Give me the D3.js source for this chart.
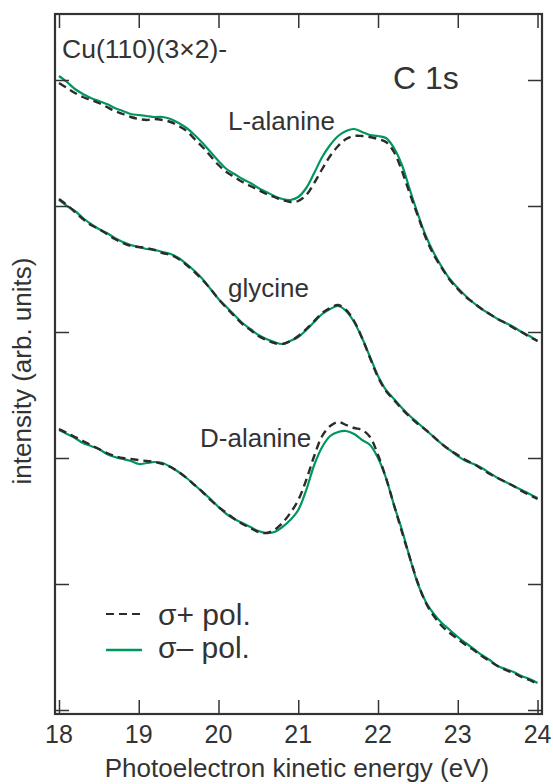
<!DOCTYPE html>
<html>
<head>
<meta charset="utf-8">
<title>C 1s Cu(110)(3x2) - alanine / glycine</title>
<style>
  body { margin: 0; background: #fff; }
  svg text { font-family: "Liberation Sans", Arial, Helvetica, sans-serif; fill: #333; }
</style>
<script src="https://cdn.jsdelivr.net/npm/d3@7"></script>
</head>
<body>
<svg id="chart" width="553" height="784"></svg>
<script>

// photon kinetic energy grid (eV)
var energy = [18.0,18.1,18.2,18.3,18.4,18.5,18.6,18.7,18.8,18.9,
  19.0,19.1,19.2,19.3,19.4,19.5,19.6,19.7,19.8,19.9,
  20.0,20.1,20.2,20.3,20.4,20.5,20.6,20.7,20.8,20.9,
  21.0,21.1,21.2,21.3,21.4,21.5,21.6,21.7,21.8,21.9,
  22.0,22.1,22.2,22.3,22.4,22.5,22.6,22.7,22.8,22.9,
  23.0,23.1,23.2,23.3,23.4,23.5,23.6,23.7,23.8,23.9,24.0];

// intensities (arb. units, curves offset)
var lAlaPlus = [627,622,617,613,610,607,603,599,596,593,
  591,590,591,590,588,584,579,571,563,554,
  545,538,533,528,524,520,516,513,510,508,
  509,515,527,541,554,564,571,574,574,573,
  571,568,558,539,516,494,472,455,442,430,
  421,413,407,401,396,391,387,382,378,373,369];
var lAlaMinus = [634,628,621,616,612,609,606,602,599,596,
  595,594,593,593,591,587,582,575,567,558,
  549,541,536,531,527,522,518,514,511,510,
  513,522,537,553,565,574,579,581,578,575,
  574,572,562,545,520,496,474,457,443,431,
  422,414,407,401,396,391,387,383,378,374,369];

var glyPlus = [511,505,498,491,485,481,476,471,467,464,
  463,462,460,457,455,451,445,438,430,421,
  411,402,394,386,380,374,370,367,366,369,
  374,381,389,397,402,405,400,389,372,352,
  333,319,310,301,293,286,280,273,266,260,
  255,250,246,241,236,232,228,224,219,215,211];
var glyMinus = [510,504,499,492,486,481,477,472,468,465,
  463,461,460,458,456,452,446,439,431,421,
  411,403,395,387,381,375,371,368,366,369,
  373,380,388,396,401,404,399,388,372,353,
  334,320,311,302,294,287,280,273,266,260,
  254,249,246,242,237,232,228,224,220,216,212];

var dAlaPlus = [281,277,273,269,265,261,257,254,252,251,
  250,249,248,246,243,238,232,225,218,210,
  203,197,191,186,182,178,177,180,187,197,
  210,230,254,274,284,288,285,282,280,273,
  255,232,205,178,152,127,107,94,84,77,
  71,65,60,54,49,44,40,37,33,30,26];
var dAlaMinus = [280,276,272,267,264,261,256,253,251,249,
  246,247,248,247,243,238,232,225,218,211,
  203,196,191,187,183,179,177,178,183,190,
  200,220,245,263,274,278,279,276,270,265,
  252,232,205,180,152,126,108,96,87,80,
  73,67,61,55,50,44,41,38,34,31,27];

var xTicks = [18, 19, 20, 21, 22, 23, 24];
var yTicks = [0, 126, 252, 378, 504, 630];

var molecules = ["L-alanine", "glycine", "D-alanine"];
var legendLabels = ["\u03c3+ pol.", "\u03c3\u2013 pol."];

function drawChart() {
  var svg = d3.select("#chart"),
      left = 55, right = 542, top = 14, bottom = 714;

  var x = d3.scaleLinear().domain([17.95, 24.056]).range([left, right]);
  var y = d3.scaleLinear().domain([-4, 696]).range([bottom, top]);

  var green = "#00975c", dark = "#2b2b2b", axisColor = "#333";

  var line = d3.line()
      .x(function(d) { return x(d[0]); })
      .y(function(d) { return y(d[1]); })
      .curve(d3.curveCatmullRom);

  var series = [
    {plus: lAlaPlus, minus: lAlaMinus},
    {plus: glyPlus, minus: glyMinus},
    {plus: dAlaPlus, minus: dAlaMinus}
  ];

  var curves = svg.append("g");
  series.forEach(function(s) {
    curves.append("path")
        .datum(d3.zip(energy, s.minus))
        .attr("fill", "none")
        .attr("stroke", green)
        .attr("stroke-width", 2.2)
        .attr("d", line);
    curves.append("path")
        .datum(d3.zip(energy, s.plus))
        .attr("fill", "none")
        .attr("stroke", dark)
        .attr("stroke-width", 2.4)
        .attr("stroke-dasharray", "8,5")
        .attr("d", line);
  });

  // frame with inward ticks on all sides
  var tick = 14;
  var axes = svg.append("g").attr("stroke", axisColor).attr("fill", "none");

  axes.append("g")
      .attr("transform", "translate(0," + bottom + ")")
      .call(d3.axisBottom(x).tickValues(xTicks).tickSizeInner(-tick).tickSizeOuter(0).tickFormat(""));
  axes.append("g")
      .attr("transform", "translate(0," + top + ")")
      .call(d3.axisTop(x).tickValues(xTicks).tickSizeInner(-tick).tickSizeOuter(0).tickFormat(""));
  axes.append("g")
      .attr("transform", "translate(" + left + ",0)")
      .call(d3.axisLeft(y).tickValues(yTicks).tickSizeInner(-tick).tickSizeOuter(0).tickFormat(""));
  axes.append("g")
      .attr("transform", "translate(" + right + ",0)")
      .call(d3.axisRight(y).tickValues(yTicks).tickSizeInner(-tick).tickSizeOuter(0).tickFormat(""));

  axes.selectAll(".domain").remove();
  axes.selectAll(".tick line").attr("stroke", axisColor).attr("stroke-width", 1.5);

  svg.append("rect")
      .attr("x", left).attr("y", top)
      .attr("width", right - left).attr("height", bottom - top)
      .attr("fill", "none")
      .attr("stroke", axisColor)
      .attr("stroke-width", 2.2);

  // tick labels
  svg.append("g").selectAll("text")
      .data(xTicks)
      .enter().append("text")
      .attr("x", function(d) { return x(d); })
      .attr("y", 743)
      .attr("text-anchor", "middle")
      .attr("font-size", 25)
      .text(function(d) { return d; });

  svg.append("text")
      .attr("x", 297)
      .attr("y", 777)
      .attr("text-anchor", "middle")
      .attr("font-size", 26)
      .text("Photoelectron kinetic energy (eV)");

  svg.append("text")
      .attr("transform", "translate(31,371) rotate(-90)")
      .attr("text-anchor", "middle")
      .attr("font-size", 26)
      .text("intensity (arb. units)");

  // annotations
  svg.append("text")
      .attr("x", 62).attr("y", 58)
      .attr("font-size", 26.5)
      .text("Cu(110)(3\u00d72)-");

  svg.append("text")
      .attr("x", 393).attr("y", 89)
      .attr("font-size", 32)
      .text("C 1s");

  var labelPos = [[228, 130], [228, 297], [200, 447]];
  svg.append("g").selectAll("text")
      .data(molecules)
      .enter().append("text")
      .attr("x", function(d, i) { return labelPos[i][0]; })
      .attr("y", function(d, i) { return labelPos[i][1]; })
      .attr("font-size", 26)
      .text(function(d) { return d; });

  // legend
  var legend = svg.append("g");
  legend.append("line")
      .attr("x1", 106).attr("x2", 140).attr("y1", 614).attr("y2", 614)
      .attr("stroke", dark).attr("stroke-width", 2.2)
      .attr("stroke-dasharray", "8,5");
  legend.append("line")
      .attr("x1", 106).attr("x2", 142).attr("y1", 650).attr("y2", 650)
      .attr("stroke", green).attr("stroke-width", 2.4);
  legend.selectAll("text")
      .data(legendLabels)
      .enter().append("text")
      .attr("x", 158)
      .attr("y", function(d, i) { return 625 + i * 33; })
      .attr("font-size", 30)
      .text(function(d) { return d; });
}

drawChart();
</script>
</body>
</html>
